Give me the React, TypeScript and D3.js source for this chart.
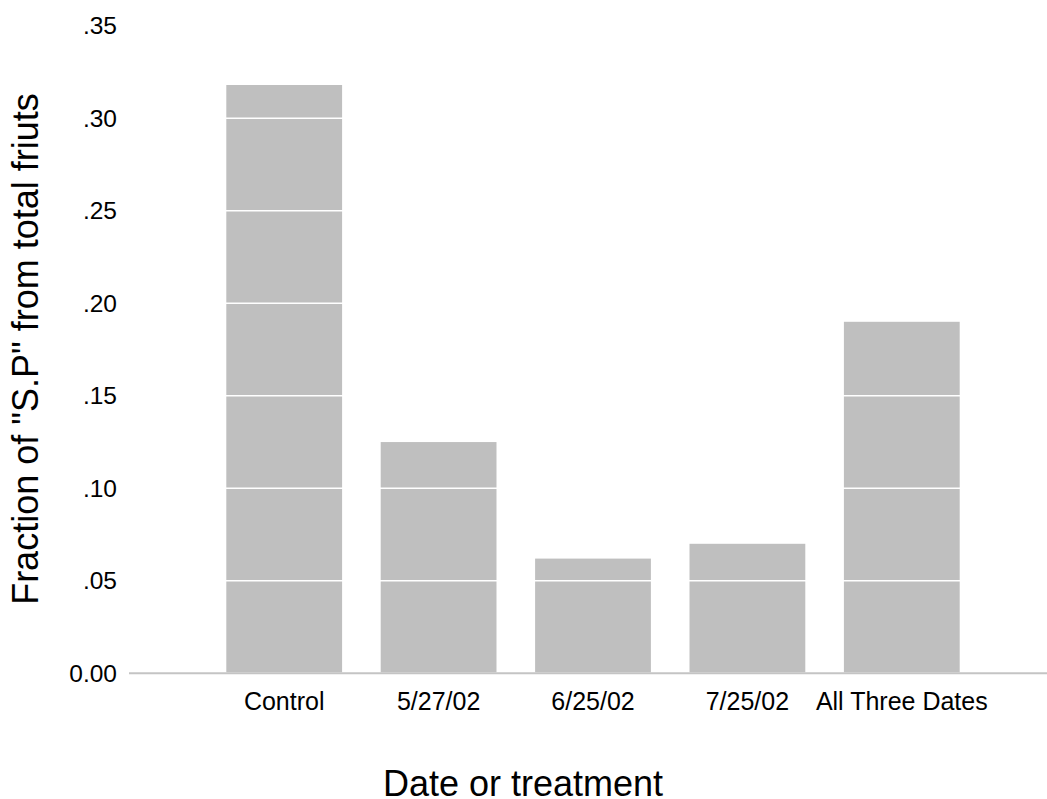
import { useEffect, useRef } from "react";
import * as d3 from "d3";

const categories = ["Control", "5/27/02", "6/25/02", "7/25/02", "All Three Dates"];
const values = [0.318, 0.125, 0.062, 0.07, 0.19];
const yTicks = [0, 0.05, 0.1, 0.15, 0.2, 0.25, 0.3, 0.35];
const yTickLabels = ["0.00", ".05", ".10", ".15", ".20", ".25", ".30", ".35"];

const WIDTH = 1047;
const HEIGHT = 799;
const FONT = "'Liberation Sans', Arial, Helvetica, sans-serif";

export default function App() {
  const ref = useRef<SVGSVGElement>(null);

  useEffect(() => {
    if (!ref.current) return;
    const svg = d3.select(ref.current);
    svg.selectAll("*").remove();

    // positional scales
    const x = d3
      .scaleBand<string>()
      .domain(categories)
      .range([207, 979])
      .paddingInner(0.25)
      .paddingOuter(0.125);

    const y = d3.scaleLinear().domain([0, 0.35]).range([673.3, 25.8]);

    // bars
    svg
      .append("g")
      .selectAll("rect")
      .data(values)
      .join("rect")
      .attr("x", (_, i) => x(categories[i])!)
      .attr("width", x.bandwidth())
      .attr("y", (d) => y(d))
      .attr("height", (d) => y(0) - y(d) - 1)
      .attr("fill", "#bfbfbf");

    // white gridlines on top of the bars
    svg
      .append("g")
      .selectAll("line")
      .data(yTicks.filter((t) => t > 0))
      .join("line")
      .attr("x1", 129)
      .attr("x2", WIDTH)
      .attr("y1", (d) => y(d))
      .attr("y2", (d) => y(d))
      .attr("stroke", "#ffffff")
      .attr("stroke-width", 1.6);

    // baseline
    svg
      .append("line")
      .attr("x1", 129)
      .attr("x2", WIDTH)
      .attr("y1", y(0))
      .attr("y2", y(0))
      .attr("stroke", "#c4c4c4")
      .attr("stroke-width", 2);

    // y tick labels
    svg
      .append("g")
      .attr("transform", "translate(117,0)")
      .call(
        d3
          .axisLeft(y)
          .tickValues(yTicks)
          .tickFormat((_, i) => yTickLabels[i])
          .tickSize(0)
          .tickPadding(0)
      )
      .call((g) => g.select(".domain").remove())
      .call((g) =>
        g
          .selectAll("text")
          .attr("fill", "#000")
          .attr("font-family", FONT)
          .attr("font-size", 24.5)
      );

    // x tick labels
    svg
      .append("g")
      .attr("transform", `translate(0,${y(0)})`)
      .call(d3.axisBottom(x).tickSize(0).tickPadding(19))
      .call((g) => g.select(".domain").remove())
      .call((g) =>
        g
          .selectAll("text")
          .attr("fill", "#000")
          .attr("font-family", FONT)
          .attr("font-size", 25)
      );

    // axis titles
    svg
      .append("text")
      .attr("x", 523)
      .attr("y", 796)
      .attr("text-anchor", "middle")
      .attr("font-family", FONT)
      .attr("font-size", 36)
      .attr("fill", "#000")
      .text("Date or treatment");

    svg
      .append("text")
      .attr("transform", "translate(38,349) rotate(-90)")
      .attr("text-anchor", "middle")
      .attr("font-family", FONT)
      .attr("font-size", 36)
      .attr("fill", "#000")
      .text('Fraction of "S.P" from total friuts');
  }, []);

  return (
    <svg
      ref={ref}
      width={WIDTH}
      height={HEIGHT}
      viewBox={`0 0 ${WIDTH} ${HEIGHT}`}
      style={{ position: "absolute", left: 0, top: 0, background: "#fff" }}
    />
  );
}
